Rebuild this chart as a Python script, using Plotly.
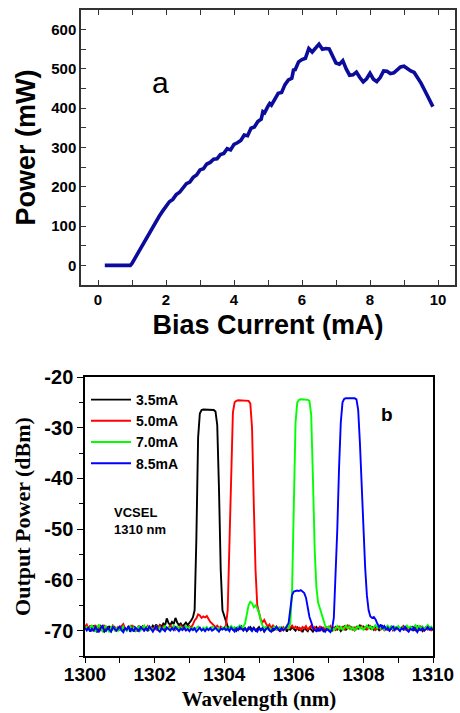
import plotly.graph_objects as go

# ---------------- data: panel (a) ----------------
BIAS_MA = [0.2, 0.5, 0.95, 1.0, 1.1, 1.2, 1.3, 1.4, 1.5, 1.6, 1.7, 1.8, 1.9, 2.0,
           2.1, 2.2, 2.3, 2.4, 2.5, 2.6, 2.7, 2.8, 2.9, 3.0, 3.1, 3.2, 3.3, 3.4,
           3.5, 3.6, 3.7, 3.8, 3.9, 4.0, 4.1, 4.2, 4.3, 4.4, 4.5, 4.6, 4.7, 4.8,
           4.85, 4.9, 5.0, 5.05, 5.1, 5.2, 5.3, 5.4, 5.5, 5.6, 5.7, 5.75, 5.8,
           5.9, 6.0, 6.1, 6.2, 6.3, 6.4, 6.5, 6.6, 6.7, 6.8, 6.9, 7.0, 7.1, 7.2,
           7.3, 7.4, 7.5, 7.6, 7.7, 7.8, 7.9, 8.0, 8.1, 8.2, 8.3, 8.4, 8.5, 8.6,
           8.7, 8.8, 8.9, 9.0, 9.1, 9.2, 9.3, 9.4, 9.5, 9.6, 9.7, 9.8, 9.85]
POWER_MW = [0, 0, 0, 5, 20, 36, 52, 68, 83, 97, 111, 125, 138, 152,
            162, 168, 180, 186, 198, 208, 212, 224, 230, 243, 246, 258, 262, 270,
            271, 282, 285, 297, 294, 308, 312, 318, 332, 330, 349, 352, 366, 372,
            391, 388, 405, 412, 408, 425, 438, 440, 460, 472, 476, 497, 498,
            518, 524, 527, 552, 543, 553, 563, 550, 552, 551, 532, 515, 512, 521,
            500, 484, 485, 492, 478, 467, 475, 489, 474, 468, 478, 495, 494, 488,
            490, 498, 505, 507, 500, 495, 491, 478, 464, 447, 430, 416, 404]

# ---------------- data: panel (b) ----------------
WAVELENGTH_NM = [
    1300.00, 1300.05, 1300.10, 1300.15, 1300.20, 1300.25, 1300.30, 1300.35, 1300.40, 1300.45,
    1300.50, 1300.55, 1300.60, 1300.65, 1300.70, 1300.75, 1300.80, 1300.85, 1300.90, 1300.95,
    1301.00, 1301.05, 1301.10, 1301.15, 1301.20, 1301.25, 1301.30, 1301.35, 1301.40, 1301.45,
    1301.50, 1301.55, 1301.60, 1301.65, 1301.70, 1301.75, 1301.80, 1301.85, 1301.90, 1301.95,
    1302.00, 1302.05, 1302.10, 1302.15, 1302.20, 1302.25, 1302.30, 1302.35, 1302.40, 1302.45,
    1302.50, 1302.55, 1302.60, 1302.65, 1302.70, 1302.75, 1302.80, 1302.85, 1302.90, 1302.95,
    1303.00, 1303.05, 1303.10, 1303.15, 1303.20, 1303.25, 1303.30, 1303.35, 1303.40, 1303.45,
    1303.50, 1303.55, 1303.60, 1303.65, 1303.70, 1303.75, 1303.80, 1303.85, 1303.90, 1303.95,
    1304.00, 1304.05, 1304.10, 1304.15, 1304.20, 1304.25, 1304.30, 1304.35, 1304.40, 1304.45,
    1304.50, 1304.55, 1304.60, 1304.65, 1304.70, 1304.75, 1304.80, 1304.85, 1304.90, 1304.95,
    1305.00, 1305.05, 1305.10, 1305.15, 1305.20, 1305.25, 1305.30, 1305.35, 1305.40, 1305.45,
    1305.50, 1305.55, 1305.60, 1305.65, 1305.70, 1305.75, 1305.80, 1305.85, 1305.90, 1305.95,
    1306.00, 1306.05, 1306.10, 1306.15, 1306.20, 1306.25, 1306.30, 1306.35, 1306.40, 1306.45,
    1306.50, 1306.55, 1306.60, 1306.65, 1306.70, 1306.75, 1306.80, 1306.85, 1306.90, 1306.95,
    1307.00, 1307.05, 1307.10, 1307.15, 1307.20, 1307.25, 1307.30, 1307.35, 1307.40, 1307.45,
    1307.50, 1307.55, 1307.60, 1307.65, 1307.70, 1307.75, 1307.80, 1307.85, 1307.90, 1307.95,
    1308.00, 1308.05, 1308.10, 1308.15, 1308.20, 1308.25, 1308.30, 1308.35, 1308.40, 1308.45,
    1308.50, 1308.55, 1308.60, 1308.65, 1308.70, 1308.75, 1308.80, 1308.85, 1308.90, 1308.95,
    1309.00, 1309.05, 1309.10, 1309.15, 1309.20, 1309.25, 1309.30, 1309.35, 1309.40, 1309.45,
    1309.50, 1309.55, 1309.60, 1309.65, 1309.70, 1309.75, 1309.80, 1309.85, 1309.90, 1309.95,
    1310.00]

DBM_3_5MA = [
    -69.4, -69.9, -69.2, -70.1, -69.6, -69.0, -69.8, -70.3, -69.5, -69.1, -69.9, -70.2, -69.4, -69.7, -69.1, -70.0, -69.6, -69.3, -70.1, -69.5,
    -69.8, -69.2, -70.0, -69.5, -69.9, -69.3, -70.2, -69.6, -69.1, -69.8, -70.0, -69.4, -69.7, -69.2, -69.9, -69.5, -70.1, -69.3, -69.6, -69.0,
    -69.4, -68.8, -69.5, -68.9, -69.2, -68.6, -69.0, -67.6, -68.5, -68.9, -68.3, -68.7, -67.5, -68.4, -68.9, -68.6, -69.2, -68.8, -68.4, -68.9,
    -68.5, -68.0, -67.4, -66.0, -52.0, -32.0, -27.2, -26.5, -26.4, -26.4, -26.4, -26.4, -26.4, -26.4, -26.5, -26.8, -29.5, -42.0, -58.0, -66.0,
    -67.2, -68.5, -69.2, -69.6, -69.3, -69.8, -69.5, -70.0, -69.4, -69.7, -69.2, -69.9, -69.5, -70.1, -69.6, -69.3, -69.8, -69.4, -70.0, -69.6,
    -69.3, -69.9, -69.5, -70.2, -69.6, -69.2, -69.9, -69.4, -70.0, -69.7, -69.3, -69.8, -70.1, -69.5, -69.9, -69.4, -70.2, -69.6, -69.8, -69.3,
    -69.7, -70.0, -69.4, -69.9, -69.6, -70.3, -69.5, -69.8, -70.1, -69.4, -69.9, -70.2, -69.6, -69.3, -70.0, -69.7, -69.4, -70.1, -69.8, -69.5,
    -69.9, -69.4, -70.0, -69.6, -69.3, -69.8, -69.5, -70.1, -69.7, -69.2, -69.8, -69.5, -69.1, -69.7, -69.4, -69.9, -69.3, -69.6, -69.0, -69.5,
    -69.2, -69.7, -69.4, -69.0, -69.6, -69.3, -69.8, -69.2, -69.5, -69.9, -69.4, -69.1, -69.7, -69.3, -69.8, -69.5, -69.2, -69.9, -69.4, -69.6,
    -69.3, -69.8, -69.5, -69.1, -69.7, -69.4, -70.0, -69.6, -69.3, -69.9, -69.5, -69.2, -69.8, -69.4, -70.1, -69.6, -69.3, -69.7, -69.4, -69.9,
    -69.6]

DBM_5_0MA = [
    -69.2, -68.8, -69.6, -69.0, -70.1, -69.4, -68.9, -69.7, -69.3, -70.0, -69.5, -68.9, -69.8, -69.2, -70.2, -69.6, -69.0, -69.5, -70.0, -69.3,
    -69.7, -69.1, -68.7, -69.5, -69.9, -69.2, -69.6, -68.9, -69.8, -70.1, -69.4, -69.0, -69.7, -69.3, -69.9, -69.5, -69.1, -69.8, -69.4, -69.9,
    -69.3, -69.8, -69.5, -69.0, -69.7, -69.2, -69.9, -69.4, -69.6, -68.9, -69.5, -69.1, -69.8, -69.3, -69.6, -69.0, -69.4, -69.7, -69.2, -69.5,
    -69.1, -69.4, -68.8, -68.0, -67.6, -66.8, -67.0, -67.5, -67.2, -67.4, -67.1, -67.8, -68.3, -68.6, -69.0, -69.3, -69.0, -69.5, -69.2, -69.6,
    -69.4, -69.0, -66.0, -52.0, -36.0, -27.0, -25.0, -24.7, -24.6, -24.6, -24.6, -24.6, -24.6, -24.6, -24.7, -25.2, -30.0, -45.0, -58.0, -65.0,
    -66.5, -67.8, -68.4, -67.9, -68.6, -69.2, -68.8, -69.5, -69.0, -69.6, -69.2, -69.8, -69.4, -69.9, -69.3, -69.7, -69.1, -69.6, -69.4, -69.0,
    -69.5, -69.2, -69.7, -69.4, -69.9, -69.3, -69.6, -69.1, -69.8, -69.5, -69.0, -69.7, -69.3, -69.9, -69.6, -69.2, -69.8, -69.4, -69.7, -69.3,
    -69.6, -69.1, -69.8, -69.4, -69.9, -69.5, -69.2, -69.7, -69.3, -69.8, -69.5, -69.0, -69.6, -69.3, -69.8, -69.4, -69.7, -69.2, -69.5, -69.1,
    -69.6, -69.3, -69.8, -69.5, -69.1, -69.7, -69.4, -69.9, -69.6, -69.2, -69.8, -69.5, -69.9, -69.4, -69.7, -70.0, -69.5, -69.8, -69.3, -69.7,
    -69.4, -69.9, -69.5, -69.2, -69.8, -69.6, -70.0, -69.4, -69.7, -69.3, -69.9, -69.5, -69.8, -69.2, -69.7, -70.0, -69.5, -69.8, -69.6, -69.9,
    -69.7]

DBM_7_0MA = [
    -69.8, -69.3, -70.0, -69.5, -68.9, -69.7, -70.2, -69.4, -68.8, -69.6, -70.1, -69.5, -69.0, -69.8, -70.3, -69.4, -69.1, -69.9, -69.5, -70.0,
    -69.4, -69.9, -69.2, -69.7, -70.0, -69.5, -69.1, -69.8, -69.4, -70.0, -69.6, -69.2, -69.9, -69.5, -69.0, -69.7, -69.3, -69.8, -69.5, -69.9,
    -69.6, -69.2, -69.8, -69.4, -69.9, -69.5, -69.1, -69.7, -69.3, -69.8, -69.4, -69.0, -69.6, -69.2, -69.7, -69.3, -69.8, -69.5, -69.1, -69.6,
    -69.3, -69.7, -69.4, -69.8, -69.5, -69.2, -69.6, -69.9, -69.4, -69.7, -69.3, -69.8, -69.5, -69.2, -69.7, -69.4, -69.9, -69.5, -69.8, -69.4,
    -69.7, -69.3, -69.8, -69.5, -69.1, -69.6, -69.3, -69.7, -69.4, -69.0, -69.5, -69.2, -68.6, -67.0, -65.0, -64.3, -64.6, -65.4, -65.0, -65.6,
    -66.5, -68.0, -69.0, -69.5, -69.2, -69.7, -69.4, -69.9, -69.5, -69.2, -69.8, -69.4, -69.7, -69.3, -69.8, -69.5, -69.1, -69.6, -68.5, -62.0,
    -44.0, -29.0, -25.0, -24.5, -24.4, -24.4, -24.4, -24.4, -24.5, -24.7, -27.5, -40.0, -54.0, -61.5, -64.5, -65.6, -66.8, -68.2, -69.0, -69.6,
    -69.2, -69.8, -69.4, -69.9, -69.5, -69.1, -69.7, -69.3, -69.8, -69.4, -69.0, -69.6, -69.2, -69.7, -69.4, -69.9, -69.5, -69.1, -69.6, -69.3,
    -69.8, -69.4, -69.0, -69.5, -69.2, -69.7, -69.3, -68.9, -69.5, -69.1, -69.6, -69.3, -69.8, -69.4, -69.0, -69.6, -69.2, -69.7, -69.3, -69.5,
    -69.1, -69.6, -69.3, -69.8, -69.4, -69.0, -69.5, -69.2, -69.7, -69.3, -68.9, -69.5, -69.1, -69.6, -69.2, -69.7, -69.4, -68.9, -69.5, -69.2,
    -69.6]

DBM_8_5MA = [
    -69.5, -69.9, -69.4, -70.2, -69.6, -70.0, -69.3, -69.8, -70.3, -69.5, -69.1, -69.9, -70.1, -69.4, -69.8, -70.2, -69.3, -69.7, -70.0, -69.6,
    -69.2, -69.9, -70.3, -69.5, -69.8, -69.1, -70.0, -69.6, -70.2, -69.4, -69.8, -70.1, -69.3, -69.7, -70.0, -69.5, -69.9, -69.2, -69.8, -70.2,
    -69.6, -69.1, -69.9, -70.2, -69.5, -69.8, -70.1, -69.4, -69.7, -70.0, -69.5, -69.9, -69.3, -69.8, -70.1, -69.6, -69.9, -69.4, -70.0, -69.7,
    -70.1, -69.6, -69.9, -69.5, -70.2, -69.8, -69.4, -70.0, -69.7, -70.1, -69.6, -69.9, -69.5, -70.0, -69.8, -69.4, -69.9, -70.2, -69.6, -69.8,
    -69.5, -69.9, -69.6, -70.1, -69.4, -69.8, -70.2, -69.5, -69.9, -69.3, -69.7, -70.0, -69.6, -69.9, -69.4, -69.8, -70.1, -69.5, -69.8, -70.2,
    -69.6, -69.9, -69.5, -70.1, -69.7, -69.4, -69.9, -70.2, -69.6, -69.8, -69.3, -69.7, -70.0, -69.5, -69.9, -69.6, -69.2, -68.5, -66.0, -63.0,
    -62.3, -62.2, -62.1, -62.2, -62.0, -62.3, -62.6, -63.5, -65.5, -67.3, -68.3, -69.4, -69.9, -70.1, -69.6, -70.0, -69.5, -69.8, -70.2, -69.7,
    -69.9, -70.3, -69.6, -67.5, -60.0, -50.0, -38.0, -29.0, -25.0, -24.3, -24.2, -24.2, -24.2, -24.2, -24.2, -24.2, -24.4, -26.5, -33.0, -42.0,
    -50.0, -57.5, -63.0, -66.0, -67.2, -67.5, -67.3, -67.8, -68.6, -69.3, -68.8, -69.6, -69.1, -69.8, -69.4, -70.0, -69.5, -69.2, -69.9, -69.4,
    -69.7, -70.1, -69.5, -69.8, -69.3, -69.9, -70.2, -69.6, -69.9, -69.4, -69.8, -70.3, -69.6, -69.9, -69.5, -70.0, -69.7, -69.3, -69.8, -69.5,
    -69.9]

SERIES_LABELS = ["3.5mA", "5.0mA", "7.0mA", "8.5mA"]
SERIES_VALUES = [DBM_3_5MA, DBM_5_0MA, DBM_7_0MA, DBM_8_5MA]
SERIES_COLORS = ["#000000", "#ff0000", "#00ff00", "#0000ff"]

# tick labels of panel (b) y axis (plain hyphen minus as in the original)
DBM_TICKS = [-70, -60, -50, -40, -30, -20]
DBM_TICK_TEXT = ["-70", "-60", "-50", "-40", "-30", "-20"]

# ---------------- figure ----------------
W, H = 460, 713


def fx(p):
    return p / W


def fy(p):
    return 1 - p / H


SANS = "Liberation Sans, Arial, sans-serif"
SERIF = "Liberation Serif, Times New Roman, serif"

fig = go.Figure()
fig.add_trace(go.Scatter(x=BIAS_MA, y=POWER_MW, mode="lines",
                         line=dict(color="#0c0c9c", width=3.6),
                         xaxis="x", yaxis="y", showlegend=False))
for lab, vals, col in zip(SERIES_LABELS, SERIES_VALUES, SERIES_COLORS):
    fig.add_trace(go.Scatter(x=WAVELENGTH_NM, y=vals, mode="lines", name=lab,
                             line=dict(color=col, width=1.9),
                             xaxis="x2", yaxis="y2"))

axis_top_common = dict(showgrid=False, zeroline=False, showline=True, automargin=False,
                       linecolor="#333333", linewidth=1.5, mirror="allticks",
                       ticks="inside", ticklen=5, tickwidth=1.3, tickcolor="#333333",
                       tickfont=dict(family=SANS, size=15, color="#000000", weight="bold"))

fig.update_layout(
    width=W, height=H,
    margin=dict(l=0, r=0, t=0, b=0, autoexpand=False),
    paper_bgcolor="white", plot_bgcolor="white",
    xaxis=dict(domain=[fx(81), fx(455)], anchor="y", range=[-0.5, 10.5],
               tick0=0, dtick=2,
               minor=dict(dtick=1, ticks="inside", ticklen=5, tickwidth=1.3, tickcolor="#333333"),
               title=dict(text="Bias Current (mA)", standoff=8,
                          font=dict(family=SANS, size=27, color="#000000", weight="bold")),
               **axis_top_common),
    yaxis=dict(domain=[fy(285), fy(10)], anchor="x", range=[-50, 650],
               tick0=0, dtick=100,
               minor=dict(dtick=50, ticks="inside", ticklen=5, tickwidth=1.3, tickcolor="#333333"),
               title=dict(text="Power (mW)", standoff=8,
                          font=dict(family=SANS, size=27, color="#000000", weight="bold")),
               **axis_top_common),
    xaxis2=dict(domain=[fx(85), fx(433)], anchor="y2", range=[1300, 1310], automargin=False,
                tick0=1300, dtick=2, showgrid=False, zeroline=False,
                showline=True, linecolor="#000000", linewidth=1.5, mirror=True,
                ticks="outside", ticklen=5, tickwidth=1.3, tickcolor="#000000",
                ticklabelstandoff=-5,
                minor=dict(dtick=1, ticks="outside", ticklen=5, tickwidth=1.3, tickcolor="#000000"),
                tickfont=dict(family=SANS, size=19, color="#000000", weight="bold"),
                title=dict(text="Wavelength (nm)", standoff=8,
                           font=dict(family=SERIF, size=21, color="#000000", weight="bold"))),
    yaxis2=dict(domain=[fy(656), fy(377)], anchor="x2", range=[-75, -20], automargin=False,
                tickmode="array", tickvals=DBM_TICKS, ticktext=DBM_TICK_TEXT,
                showgrid=False, zeroline=False,
                showline=True, linecolor="#000000", linewidth=1.5, mirror=True,
                ticks="outside", ticklen=6, tickwidth=1.3, tickcolor="#000000",
                minor=dict(dtick=5, tick0=0, ticks="outside", ticklen=4, tickwidth=1.3, tickcolor="#000000"),
                tickfont=dict(family=SANS, size=20, color="#000000", weight="bold"),
                title=dict(text="Output Power (dBm)", standoff=8,
                           font=dict(family=SERIF, size=22, color="#000000", weight="bold"))),
    xaxis3=dict(overlaying="x2", anchor="y2", side="top", range=[1300, 1310], automargin=False,
                tick0=1300, dtick=1, ticks="inside", ticklen=5, tickwidth=1.3,
                tickcolor="#000000", showticklabels=False, showline=False,
                showgrid=False, zeroline=False),
    yaxis3=dict(overlaying="y2", anchor="x2", side="right", range=[-75, -20], automargin=False,
                tick0=0, dtick=5, ticks="inside", ticklen=5, tickwidth=1.3,
                tickcolor="#000000", showticklabels=False, showline=False,
                showgrid=False, zeroline=False),
    legend=dict(x=fx(86), y=fy(384), xanchor="left", yanchor="top",
                bgcolor="rgba(0,0,0,0)", borderwidth=0, itemwidth=40,
                font=dict(family=SANS, size=14, color="#000000", weight="bold"),
                tracegroupgap=0),
    annotations=[
        dict(text="a", x=fx(160), y=fy(82), xref="paper", yref="paper",
             showarrow=False, xanchor="center", yanchor="middle",
             font=dict(family=SANS, size=30, color="#000000")),
        dict(text="b", x=fx(387), y=fy(415), xref="paper", yref="paper",
             showarrow=False, xanchor="center", yanchor="middle",
             font=dict(family=SANS, size=19, color="#000000", weight="bold")),
        dict(text="VCSEL<br>1310 nm", x=fx(112), y=fy(521), xref="paper", yref="paper",
             showarrow=False, xanchor="left", yanchor="middle", align="left",
             font=dict(family=SANS, size=13, color="#000000", weight="bold")),
    ],
)

fig.write_html("out.html",
               config={"displayModeBar": False},
               post_script="document.body.style.margin='0';document.body.style.overflow='hidden';")
